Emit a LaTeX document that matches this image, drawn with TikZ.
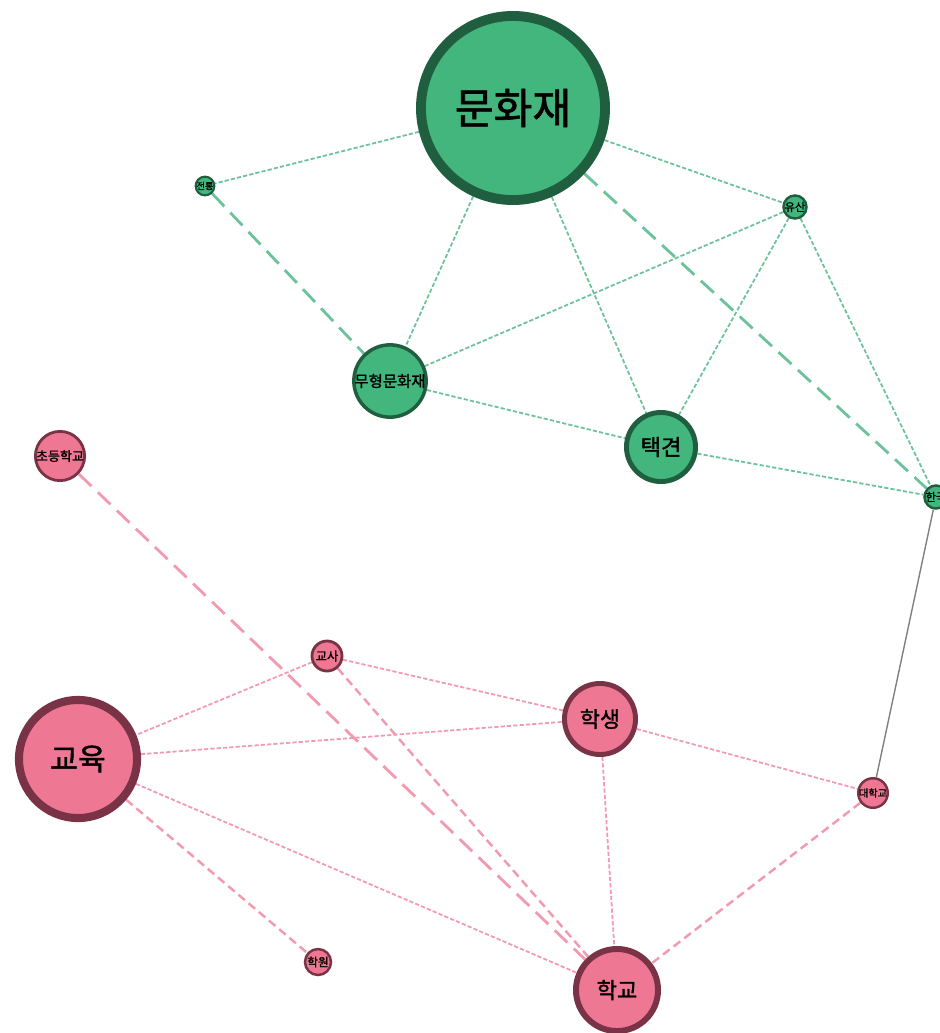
\documentclass[tikz,border=0pt]{standalone}
\usepackage{fontspec}
\newfontfamily\kr[AutoFakeBold=1.5]{Noto Sans CJK KR}
\usetikzlibrary{backgrounds}
\definecolor{gfill}{HTML}{43B67E}
\definecolor{gline}{HTML}{1F5E3E}
\definecolor{pfill}{HTML}{EE7893}
\definecolor{pline}{HTML}{7A3346}
\definecolor{gedge}{HTML}{6CC29A}
\definecolor{pedge}{HTML}{F29AB0}
\newcommand{\krsize}[1]{\kr\bfseries\fontsize{#1}{#1}\selectfont}

\begin{document}
\begin{tikzpicture}[x=0.01cm,y=-0.01cm,
  gnode/.style={circle,fill=gfill,draw=gline,inner sep=0pt},
  pnode/.style={circle,fill=pfill,draw=pline,inner sep=0pt},
  thinline/.style={line width=0.5pt,dash pattern=on 1.2pt off 0.6pt},
  shortdash/.style={line width=0.7pt,dash pattern=on 2.4pt off 1.4pt},
  longdash/.style={line width=0.8pt,dash pattern=on 5pt off 2.5pt}]
\useasboundingbox (0,0) rectangle (940,1033);
\clip (0,0) rectangle (940,1033);
% green nodes
\node[gnode,minimum size=1.84cm,line width=2.8pt,font=\krsize{12}] (munhwajae) at (513,108) {문화재};
\node[gnode,minimum size=0.16cm,line width=0.6pt,font=\krsize{2.6}] (jeontong) at (205,186) {전통};
\node[gnode,minimum size=0.22cm,line width=0.7pt,font=\krsize{3.2}] (yusan) at (795,207) {유산};
\node[gnode,minimum size=0.43cm,line width=1pt,font=\krsize{4.4}] (muhyeong) at (390,381) {무형문화재};
\node[gnode,minimum size=0.69cm,line width=1.4pt,font=\krsize{6.3}] (taekgyeon) at (661,447) {택견};
\node[gnode,minimum size=0.22cm,line width=0.7pt,font=\krsize{3.2}] (hanguk) at (936,497) {한국};
% pink nodes
\node[pnode,minimum size=0.32cm,line width=0.8pt,font=\krsize{3.7}] (chodeung) at (60,456) {초등학교};
\node[pnode,minimum size=0.30cm,line width=0.8pt,font=\krsize{3.5}] (gyosa) at (327,656) {교사};
\node[pnode,minimum size=1.18cm,line width=2.3pt,font=\krsize{8.6}] (gyoyuk) at (78,759) {교육};
\node[pnode,minimum size=0.71cm,line width=1.4pt,font=\krsize{6.2}] (haksaeng) at (600,719) {학생};
\node[pnode,minimum size=0.22cm,line width=0.7pt,font=\krsize{2.9}] (daehakgyo) at (873,793) {대학교};
\node[pnode,minimum size=0.26cm,line width=0.7pt,font=\krsize{3.3}] (hagwon) at (318,962) {학원};
\node[pnode,minimum size=0.82cm,line width=1.7pt,font=\krsize{6.3}] (hakgyo) at (617,990) {학교};
% edges
\begin{scope}[on background layer]
\draw[gedge,thinline] (munhwajae) -- (jeontong);
\draw[gedge,longdash] (jeontong) -- (muhyeong);
\draw[gedge,thinline] (munhwajae) -- (muhyeong);
\draw[gedge,thinline] (munhwajae) -- (taekgyeon);
\draw[gedge,thinline] (munhwajae) -- (yusan);
\draw[gedge,longdash] (munhwajae) -- (hanguk);
\draw[gedge,thinline] (yusan) -- (muhyeong);
\draw[gedge,thinline] (yusan) -- (taekgyeon);
\draw[gedge,thinline] (yusan) -- (hanguk);
\draw[gedge,thinline] (muhyeong) -- (taekgyeon);
\draw[gedge,thinline] (taekgyeon) -- (hanguk);
\draw[gray,line width=0.4pt] (hanguk) -- (daehakgyo);
\draw[pedge,longdash] (chodeung) -- (hakgyo);
\draw[pedge,thinline] (gyosa) -- (gyoyuk);
\draw[pedge,thinline] (gyosa) -- (haksaeng);
\draw[pedge,shortdash] (gyosa) -- (hakgyo);
\draw[pedge,thinline] (gyoyuk) -- (haksaeng);
\draw[pedge,thinline] (gyoyuk) -- (hakgyo);
\draw[pedge,shortdash] (gyoyuk) -- (hagwon);
\draw[pedge,thinline] (haksaeng) -- (daehakgyo);
\draw[pedge,thinline] (haksaeng) -- (hakgyo);
\draw[pedge,shortdash] (daehakgyo) -- (hakgyo);
\end{scope}
\end{tikzpicture}
\end{document}
